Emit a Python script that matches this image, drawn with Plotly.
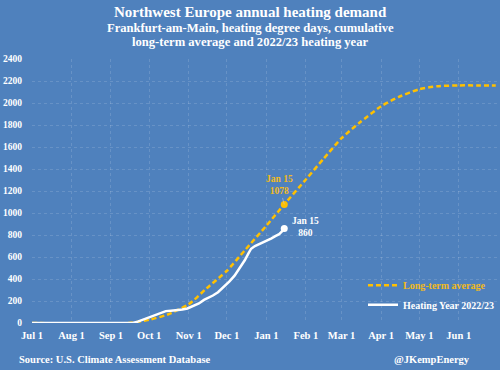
import plotly.graph_objects as go

# ---------------- data ----------------
lt_dates = ["2022-07-01", "2022-09-15", "2022-10-01", "2022-10-15", "2022-11-01",
            "2022-11-15", "2022-12-01", "2022-12-15", "2023-01-01", "2023-01-15",
            "2023-02-01", "2023-02-15", "2023-03-01", "2023-03-15", "2023-04-01",
            "2023-04-15", "2023-05-01", "2023-05-15", "2023-06-01", "2023-06-15",
            "2023-06-30"]
lt_values = [0, 0, 30, 75, 170, 315, 475, 660, 885, 1078, 1305, 1495, 1680, 1820,
             1970, 2055, 2125, 2152, 2160, 2160, 2160]

hy_dates = ["2022-07-01", "2022-09-18", "2022-09-22", "2022-09-26", "2022-10-01",
            "2022-10-05", "2022-10-10", "2022-10-14", "2022-10-18", "2022-10-22",
            "2022-10-27", "2022-10-31", "2022-11-04", "2022-11-09", "2022-11-13",
            "2022-11-17", "2022-11-20", "2022-11-24", "2022-11-28", "2022-12-03",
            "2022-12-07", "2022-12-11", "2022-12-15", "2022-12-18", "2022-12-20",
            "2022-12-23", "2022-12-27", "2023-01-01", "2023-01-05", "2023-01-08",
            "2023-01-11", "2023-01-13", "2023-01-15"]
hy_values = [0, 0, 12, 30, 50, 68, 90, 108, 112, 114, 122, 132, 150, 178, 210, 230,
             250, 280, 320, 378, 430, 495, 570, 635, 675, 700, 720, 745, 770, 790,
             808, 830, 860]

tick_dates = ["2022-07-01", "2022-08-01", "2022-09-01", "2022-10-01", "2022-11-01",
              "2022-12-01", "2023-01-01", "2023-02-01", "2023-03-01", "2023-04-01",
              "2023-05-01", "2023-06-01", "2023-07-01"]
tick_labels = ["Jul 1", "Aug 1", "Sep 1", "Oct 1", "Nov 1", "Dec 1", "Jan 1",
               "Feb 1", "Mar 1", "Apr 1", "May 1", "Jun 1", ""]

y_ticks = list(range(0, 2401, 200))

marker_date = "2023-01-15"
lt_marker_value = lt_values[lt_dates.index(marker_date)]
hy_marker_value = hy_values[hy_dates.index(marker_date)]

# ---------------- styling ----------------
BG = "#4F81BD"
GOLD = "#FFC000"
GOLD_TXT = "#F2BA1A"
WHITE = "#FFFFFF"
GRID = "rgba(255,255,255,0.14)"
FONT = "Liberation Serif"

W, H = 500, 370
# plot area in page pixels
PL, PR, PT, PB = 32, 497, 59.3, 323.3


def px(xp):
    return (xp - PL) / (PR - PL)


def py(yp):
    return (PB - yp) / (PB - PT)


fig = go.Figure()

fig.add_trace(go.Scatter(
    x=lt_dates, y=lt_values, mode="lines", name="Long-term average",
    line=dict(color=GOLD, width=2.5, dash="5px,3px", shape="spline", smoothing=0.6),
    legend="legend", hoverinfo="skip"))
fig.add_trace(go.Scatter(
    x=hy_dates, y=hy_values, mode="lines", name="Heating Year 2022/23",
    line=dict(color=WHITE, width=2.5),
    legend="legend2", hoverinfo="skip"))
fig.add_trace(go.Scatter(
    x=[marker_date], y=[lt_marker_value], mode="markers", showlegend=False,
    marker=dict(color=GOLD, size=7), hoverinfo="skip"))
fig.add_trace(go.Scatter(
    x=[marker_date], y=[hy_marker_value], mode="markers", showlegend=False,
    marker=dict(color=WHITE, size=7), hoverinfo="skip"))

ann = []
ann.append(dict(x=marker_date, y=lt_marker_value, xref="x", yref="y",
                text=f"<b>Jan 15<br>{lt_marker_value}</b>", showarrow=True,
                arrowhead=0, arrowwidth=0.8, arrowcolor="rgba(200,200,200,0.8)",
                ax=-5, ay=-19, font=dict(family=FONT, size=9.5, color=GOLD_TXT)))
ann.append(dict(x=marker_date, y=hy_marker_value, xref="x", yref="y",
                text=f"<b>Jan 15<br>{hy_marker_value}</b>", showarrow=False,
                xanchor="left", yanchor="middle", xshift=6, yshift=1,
                font=dict(family=FONT, size=9.5, color=WHITE)))
# titles
ann.append(dict(x=px(250), y=py(12.5), xref="paper", yref="paper",
                text="<b>Northwest Europe annual heating demand</b>", showarrow=False,
                xanchor="center", yanchor="middle",
                font=dict(family=FONT, size=15, color=WHITE)))
ann.append(dict(x=px(250), y=py(28), xref="paper", yref="paper",
                text="<b>Frankfurt-am-Main, heating degree days, cumulative</b>",
                showarrow=False, xanchor="center", yanchor="middle",
                font=dict(family=FONT, size=12.6, color=WHITE)))
ann.append(dict(x=px(250), y=py(42), xref="paper", yref="paper",
                text="<b>long-term average and 2022/23 heating year</b>",
                showarrow=False, xanchor="center", yanchor="middle",
                font=dict(family=FONT, size=12.6, color=WHITE)))
# footer
ann.append(dict(x=px(17), y=py(360), xref="paper", yref="paper",
                text="<b>Source: U.S. Climate Assessment Database</b>",
                showarrow=False, xanchor="left", yanchor="middle",
                font=dict(family=FONT, size=10.5, color=WHITE)))
ann.append(dict(x=px(472), y=py(360), xref="paper", yref="paper",
                text="<b>@JKempEnergy</b>", showarrow=False,
                xanchor="right", yanchor="middle",
                font=dict(family=FONT, size=10.5, color=WHITE)))

fig.update_layout(
    width=W, height=H,
    margin=dict(l=PL, r=W - PR, t=PT, b=H - PB, autoexpand=False),
    paper_bgcolor=BG, plot_bgcolor=BG,
    font=dict(family=FONT, size=10.5, color=WHITE),
    annotations=ann,
    legend=dict(x=px(363), y=py(271.1), xanchor="left",
                yanchor="top", bgcolor="rgba(0,0,0,0)",
                font=dict(family=FONT, size=10, color=GOLD_TXT, weight="bold"),
                itemwidth=30),
    legend2=dict(x=px(363), y=py(290.6), xanchor="left",
                 yanchor="top", bgcolor="rgba(0,0,0,0)",
                 font=dict(family=FONT, size=10, color=WHITE, weight="bold"),
                 itemwidth=30),
    xaxis=dict(type="date", range=["2022-07-01", "2023-07-01"],
               tickmode="array", tickvals=tick_dates, ticktext=tick_labels,
               showgrid=True, gridcolor=GRID, griddash="dot", gridwidth=1,
               zeroline=False, showline=False, ticks="",
               ticklabelstandoff=4,
               tickfont=dict(family=FONT, size=10.5, color=WHITE, weight="bold")),
    yaxis=dict(range=[0, 2400], tickmode="array", tickvals=y_ticks,
               showgrid=True, gridcolor=GRID, griddash="dot", gridwidth=1,
               zeroline=False, showline=False, ticks="",
               ticklabelstandoff=9,
               tickfont=dict(family=FONT, size=9.5, color=WHITE, weight="bold")),
)

# remove the browser's default 8px page margin so the figure fills the window
fig.write_html("out.html",
               config={"displayModeBar": False, "staticPlot": True},
               post_script="document.body.style.margin='0px';"
                           "document.body.style.background='" + BG + "';")
